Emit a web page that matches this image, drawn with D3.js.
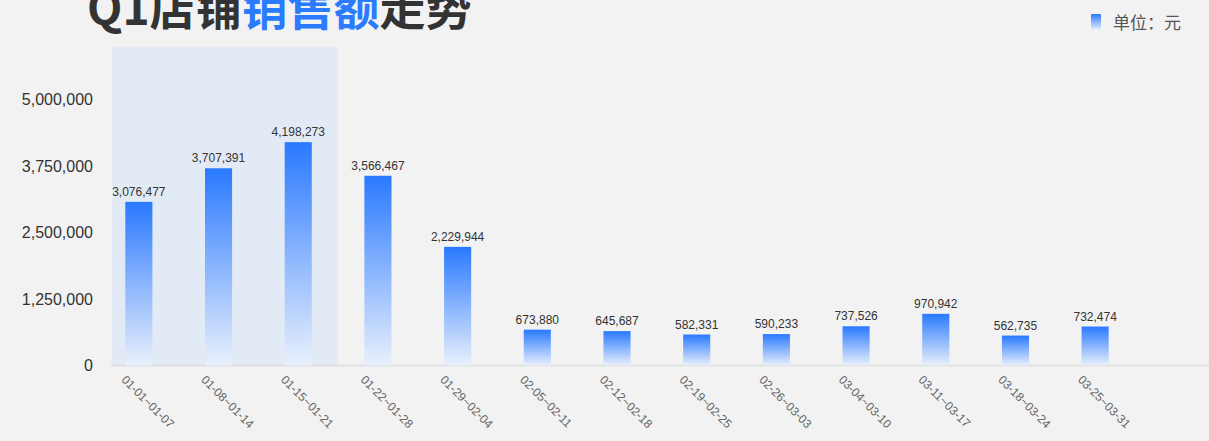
<!DOCTYPE html>
<html>
<head>
<meta charset="utf-8">
<script src="https://cdn.jsdelivr.net/npm/d3@7"></script>
<style>
  body { margin: 0; background: #f2f2f2; }
  svg { display: block; }
</style>
</head>
<body>
<div id="chart"></div>
<script>
// week ranges and sales
const weeks = ["01-01~01-07", "01-08~01-14", "01-15~01-21", "01-22~01-28", "01-29~02-04",
  "02-05~02-11", "02-12~02-18", "02-19~02-25", "02-26~03-03", "03-04~03-10",
  "03-11~03-17", "03-18~03-24", "03-25~03-31"];
const sales = [3076477, 3707391, 4198273, 3566467, 2229944, 673880, 645687,
  582331, 590233, 737526, 970942, 562735, 732474];
const yTicks = [0, 1250000, 2500000, 3750000, 5000000];
const highlightLast = "01-15~01-21";

const W = 1209, H = 441;
const svg = d3.select("#chart").append("svg").attr("width", W).attr("height", H);

const defs = svg.append("defs");
const grad = defs.append("linearGradient").attr("id", "barGrad")
  .attr("x1", 0).attr("y1", 0).attr("x2", 0).attr("y2", 1);
grad.append("stop").attr("offset", "0%").attr("stop-color", "#2979ff");
grad.append("stop").attr("offset", "100%").attr("stop-color", "#e9f0fc");

const axisLeftX = 111, axisRightX = 1209, plotTop = 47;
const x = d3.scaleBand().domain(weeks).range([99, 1135]).paddingInner(0.66).paddingOuter(0.33);
const y = d3.scaleLinear().domain([0, 5000000]).range([365.5, 99.5]);

// highlight area for first three weeks
const hlRight = x(highlightLast) + x.bandwidth() / 2 + x.step() / 2;
svg.append("rect")
  .attr("x", axisLeftX + 1)
  .attr("y", plotTop)
  .attr("width", hlRight - axisLeftX - 1)
  .attr("height", y(0) - plotTop)
  .attr("fill", "#e2ebf5");

// y axis labels
svg.append("g").selectAll("text").data(yTicks).enter().append("text")
  .attr("x", 93).attr("y", d => y(d)).attr("dy", "0.35em")
  .attr("text-anchor", "end")
  .attr("font-family", "Liberation Sans, Arial, sans-serif")
  .attr("font-size", 16).attr("fill", "#333")
  .text(d => d3.format(",")(d));

// x axis line
svg.append("line").attr("x1", axisLeftX).attr("x2", axisRightX)
  .attr("y1", y(0)).attr("y2", y(0)).attr("stroke", "#dcdcdc").attr("stroke-width", 1.5);

// bars
svg.append("g").selectAll("rect").data(sales).enter().append("rect")
  .attr("x", (d, i) => x(weeks[i]))
  .attr("y", d => y(d))
  .attr("width", x.bandwidth())
  .attr("height", d => y(0) - y(d))
  .attr("fill", "url(#barGrad)");

// value labels
svg.append("g").selectAll("text").data(sales).enter().append("text")
  .attr("x", (d, i) => x(weeks[i]) + x.bandwidth() / 2)
  .attr("y", d => y(d) - 6)
  .attr("text-anchor", "middle")
  .attr("font-family", "Liberation Sans, Arial, sans-serif")
  .attr("font-size", 12).attr("fill", "#333")
  .text(d => d3.format(",")(d));

// x labels
svg.append("g").selectAll("text").data(weeks).enter().append("text")
  .attr("transform", d => `translate(${x(d) + x.bandwidth() / 2 - 18},${y(0) + 15}) rotate(45)`)
  .attr("text-anchor", "start")
  .attr("font-family", "Liberation Sans, Arial, sans-serif")
  .attr("font-size", 12).attr("fill", "#666")
  .text(d => d);

// title
const title = svg.append("text").attr("x", 87).attr("y", 25)
  .attr("font-family", "Noto Sans CJK SC, sans-serif")
  .attr("font-weight", "bold").attr("font-size", 46).attr("fill", "#333");
title.append("tspan").text("Q1店铺");
title.append("tspan").attr("fill", "#2b7bff").text("销售额");
title.append("tspan").text("走势");

// legend
svg.append("rect").attr("x", 1091).attr("y", 14).attr("width", 10).attr("height", 16)
  .attr("fill", "url(#barGrad)");
svg.append("text").attr("x", 1113).attr("y", 23).attr("dy", "0.35em")
  .attr("font-family", "Noto Sans CJK SC, sans-serif")
  .attr("font-size", 17).attr("fill", "#555")
  .text("单位：元");
</script>
</body>
</html>
